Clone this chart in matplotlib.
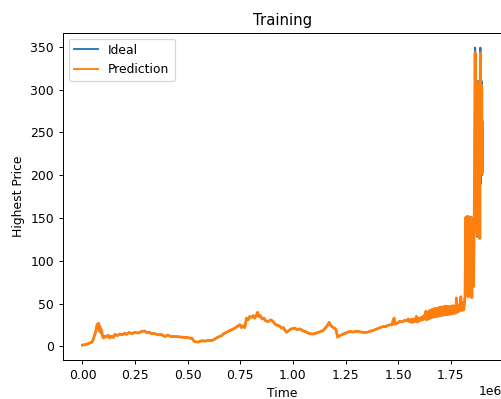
import matplotlib
matplotlib.use("Agg")
import matplotlib.pyplot as plt
import numpy as np

# Shared history (time in units of 1e6 steps, highest price); both series coincide here
base_time = [
    0.000, 0.020, 0.035, 0.045, 0.050, 0.056, 0.063, 0.068, 0.071, 0.074,
    0.077, 0.080, 0.083, 0.087, 0.091, 0.095, 0.100, 0.107, 0.114, 0.122,
    0.130, 0.138, 0.146, 0.155, 0.165, 0.177, 0.190, 0.200, 0.209, 0.222,
    0.235, 0.250, 0.265, 0.280, 0.296, 0.305, 0.318, 0.328, 0.340, 0.360,
    0.375, 0.391, 0.405, 0.420, 0.447, 0.470, 0.495, 0.510, 0.520, 0.527,
    0.534, 0.550, 0.565, 0.581, 0.600, 0.615, 0.629, 0.645, 0.660, 0.676,
    0.690, 0.700, 0.716, 0.728, 0.740, 0.748, 0.756, 0.763, 0.771, 0.776,
    0.779, 0.787, 0.795, 0.803, 0.812, 0.819, 0.826, 0.832, 0.838, 0.845,
    0.854, 0.862, 0.870, 0.882, 0.895, 0.906, 0.915, 0.922, 0.935, 0.946,
    0.955, 0.962, 0.970, 0.978, 0.985, 0.993, 1.009, 1.020, 1.033, 1.045,
    1.057, 1.070, 1.080, 1.096, 1.112, 1.128, 1.144, 1.152, 1.160, 1.166,
    1.172, 1.178, 1.188, 1.196, 1.204, 1.208, 1.212, 1.220, 1.231, 1.245,
    1.255, 1.270, 1.285, 1.300, 1.310, 1.330, 1.350, 1.365, 1.380, 1.389,
    1.405, 1.420, 1.429, 1.440, 1.450, 1.461, 1.470, 1.477, 1.481, 1.485,
    1.495, 1.508, 1.520, 1.530, 1.540, 1.548, 1.555, 1.561, 1.567, 1.573,
    1.580, 1.587, 1.592, 1.598, 1.604, 1.610, 1.616, 1.622, 1.627, 1.632,
    1.635, 1.640, 1.645, 1.650, 1.655, 1.660, 1.665, 1.670, 1.675, 1.680,
    1.685, 1.690, 1.695, 1.700, 1.705, 1.710, 1.715, 1.720, 1.725, 1.730,
    1.735, 1.740, 1.745, 1.750, 1.755, 1.760, 1.765, 1.770, 1.774, 1.777,
    1.781, 1.785, 1.789, 1.794, 1.798, 1.802, 1.806, 1.809, 1.812,
]
base_price = [
    1.5, 2.5, 4.0, 5.0, 7.8, 12.0, 17.5, 24.0, 26.0, 22.0,
    27.0, 18.0, 23.0, 16.0, 19.0, 12.0, 9.8, 12.0, 11.0, 13.0,
    9.8, 12.0, 10.5, 14.0, 12.5, 14.4, 13.5, 15.5, 14.0, 16.3,
    14.8, 16.5, 15.5, 17.5, 18.0, 16.0, 16.5, 14.8, 15.2, 13.5,
    14.0, 11.5, 13.2, 11.5, 11.5, 10.8, 10.5, 9.7, 9.5, 7.0,
    5.5, 5.0, 6.6, 6.2, 7.0, 6.8, 8.6, 11.0, 12.5, 15.6,
    17.0, 18.5, 20.2, 22.0, 24.0, 25.3, 22.0, 24.0, 22.0, 28.0,
    33.0, 31.0, 35.0, 34.0, 36.0, 33.0, 36.0, 39.7, 35.0, 36.0,
    32.0, 33.0, 30.0, 29.0, 31.0, 29.0, 26.0, 25.0, 24.0, 21.4,
    22.0, 19.0, 16.5, 18.0, 19.4, 20.5, 21.4, 19.5, 20.5, 18.5,
    17.5, 16.0, 14.8, 14.5, 15.6, 17.0, 18.7, 21.0, 23.3, 25.0,
    28.0, 25.0, 22.6, 21.5, 20.0, 16.0, 10.9, 12.0, 13.6, 15.0,
    16.0, 17.5, 16.8, 17.5, 17.5, 16.5, 16.3, 17.5, 18.5, 19.4,
    21.0, 22.5, 23.3, 23.0, 24.5, 25.3, 25.0, 31.0, 33.0, 26.0,
    27.0, 29.5, 28.5, 30.5, 30.0, 32.0, 28.5, 31.5, 28.0, 32.0,
    29.0, 35.0, 28.5, 33.0, 30.0, 34.0, 31.0, 36.0, 32.0, 41.0,
    31.0, 40.0, 32.0, 42.0, 33.0, 43.0, 34.0, 44.0, 34.5, 44.5,
    35.0, 45.0, 35.5, 46.0, 36.0, 46.0, 36.5, 47.0, 37.0, 47.0,
    37.0, 46.5, 37.5, 47.0, 38.0, 47.5, 38.5, 47.0, 39.0, 56.6,
    40.0, 48.0, 41.0, 47.5, 58.0, 42.0, 51.0, 42.5, 43.0,
]

# Final surge, where the two series part slightly at the peaks
surge_time = [
    1.818, 1.822, 1.826, 1.830, 1.834, 1.838, 1.842, 1.846, 1.850, 1.854,
    1.858, 1.862, 1.866, 1.869, 1.872, 1.874, 1.876, 1.879, 1.882, 1.885,
    1.888, 1.891, 1.894, 1.897, 1.899, 1.900,
]
surge_ideal = [
    58, 151, 60, 152, 58, 151, 62, 151, 57, 150,
    70, 151, 349, 190, 300, 272, 128, 310, 200, 285,
    127, 349, 190, 310, 200, 260,
]
surge_pred = [
    58, 151, 60, 152, 58, 151, 62, 151, 57, 150,
    70, 151, 343, 195, 305, 275, 130, 308, 205, 290,
    126, 343, 200, 305, 202, 262,
]

time = np.array(base_time + surge_time) * 1e6
ideal = np.array(base_price + surge_ideal, dtype=float)
prediction = np.array(base_price + surge_pred, dtype=float)

# 89 dpi keeps the pixel size while shrinking fonts, ticks and lines together
DPI = 89
fig = plt.figure(figsize=(501 / DPI, 399 / DPI), dpi=DPI)
ax = fig.add_axes([62.5 / 501, 39 / 399, (502.3 - 62.5) / 501, 327.3 / 399])

ax.plot(time, ideal, color="#1f77b4", lw=1.5, label="Ideal")
ax.plot(time, prediction, color="#ff7f0e", lw=2.3, label="Prediction")

ax.set_title("Training")
ax.set_xlabel("Time")
ax.set_ylabel("Highest Price")
leg = ax.legend(loc="upper left")
for line in leg.get_lines():
    line.set_linewidth(1.5)

fig.savefig("out.png", dpi=DPI)
